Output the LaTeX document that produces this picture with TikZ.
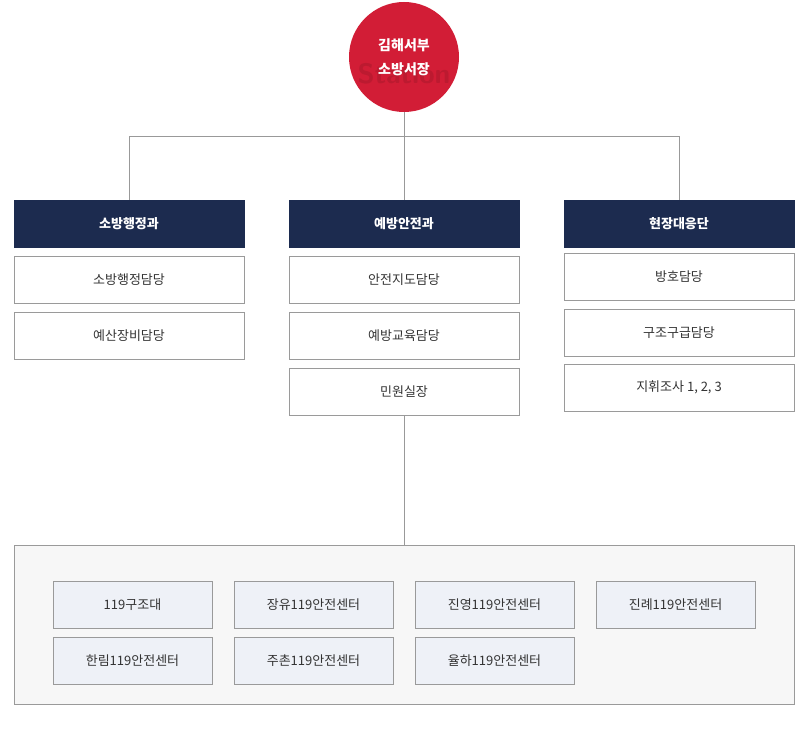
\documentclass[tikz,border=0pt]{standalone}
\usepackage{fontspec}
\newfontfamily\kr{Noto Sans CJK KR}
\definecolor{navy}{HTML}{1C2B4F}
\definecolor{fire}{HTML}{D21D36}
\definecolor{dfire}{HTML}{BC1A30}
\definecolor{sub}{HTML}{EEF1F7}
\definecolor{frame}{HTML}{9A9A9A}
\begin{document}
\begin{tikzpicture}[x=1pt,y=-1pt,font=\kr\fontsize{13}{15}\selectfont,
 head/.style={fill=navy,text=white,draw=navy,minimum width=230pt,minimum height=47pt,inner sep=0pt,font=\kr\fontsize{13}{15}\selectfont\bfseries},
 box/.style={fill=white,draw=frame,minimum width=230pt,minimum height=47pt,inner sep=0pt,text=black!80},
 cen/.style={fill=sub,draw=frame,minimum width=159pt,minimum height=47pt,inner sep=0pt,text=black!80},
 ln/.style={draw=black!40,line width=0.6pt}]
\useasboundingbox (0,0) rectangle (800,746);
\node[circle,fill=fire,minimum size=110pt,inner sep=0pt] (chief) at (404,57) {};
\node[text=dfire,font=\sffamily\bfseries\fontsize{28}{28}\selectfont] (wm) at (404,74) {Station};
\node[text=white,align=center,font=\kr\fontsize{14}{24}\selectfont\bfseries] (chieft) at (404,57) {김해서부\\소방서장};
\node[head] (h1) at (129,223.5) {소방행정과};
\node[head] (h2) at (404,223.5) {예방안전과};
\node[head] (h3) at (679,223.5) {현장대응단};
\coordinate (j) at (404,136);
\coordinate (j1) at (129,136);
\coordinate (j3) at (679,136);
\draw[ln] (chief.south) -- (j);
\draw[ln] (h1.north) -- (j1) -- (j3) -- (h3.north);
\draw[ln] (j) -- (h2.north);
\node[box] (a1) at (129,279.5) {소방행정담당};
\node[box] (a2) at (129,335.5) {예산장비담당};
\node[box] (b1) at (404,279.5) {안전지도담당};
\node[box] (b2) at (404,335.5) {예방교육담당};
\node[box] (b3) at (404,391.5) {민원실장};
\node[box] (c1) at (679,276.5) {방호담당};
\node[box] (c2) at (679,332.5) {구조구급담당};
\node[box] (c3) at (679,387.5) {지휘조사 1, 2, 3};
\node[draw=frame,fill=black!3,minimum width=780pt,minimum height=159pt,inner sep=0pt] (big) at (404,624.5) {};
\draw[ln] (b3.south) -- (big.north);
\node[cen] (s1) at (132.5,604.5) {119구조대};
\node[cen] (s2) at (313.5,604.5) {장유119안전센터};
\node[cen] (s3) at (494.5,604.5) {진영119안전센터};
\node[cen] (s4) at (675.5,604.5) {진례119안전센터};
\node[cen] (s5) at (132.5,660.5) {한림119안전센터};
\node[cen] (s6) at (313.5,660.5) {주촌119안전센터};
\node[cen] (s7) at (494.5,660.5) {율하119안전센터};
\end{tikzpicture}
\end{document}
